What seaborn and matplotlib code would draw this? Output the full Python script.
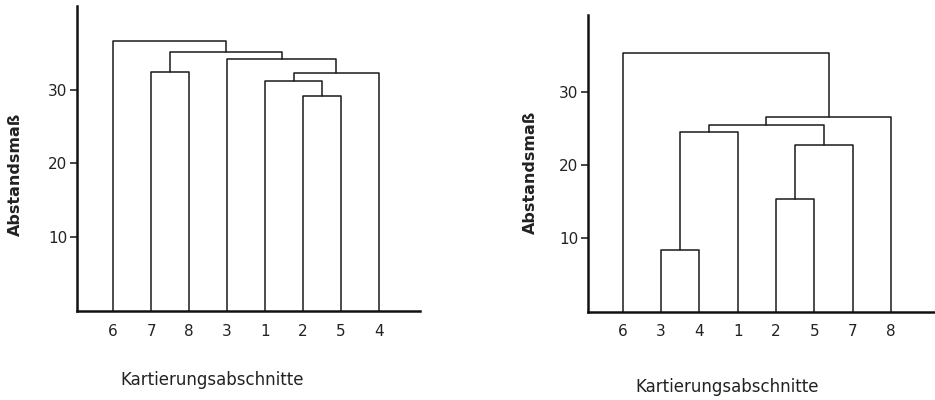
import numpy as np
import pandas as pd
import matplotlib
matplotlib.use('Agg')
import matplotlib.pyplot as plt
import seaborn as sns

# leaf order as printed under each dendrogram
left_leaves = ['6', '7', '8', '3', '1', '2', '5', '4']
right_leaves = ['6', '3', '4', '1', '2', '5', '7', '8']

# merges (scipy-style): leaves are 0..7 in plot order, new clusters 8, 9, ...
left_a = [5, 4, 9, 1, 3, 11, 0]
left_b = [6, 8, 7, 2, 10, 12, 13]
left_h = [29.1, 31.1, 32.3, 32.4, 34.1, 35.1, 36.5]

right_a = [1, 4, 9, 8, 11, 12, 0]
right_b = [2, 5, 6, 3, 10, 7, 13]
right_h = [8.4, 15.4, 22.7, 24.5, 25.5, 26.6, 35.3]

y_ticks = [10, 20, 30]
y_label = 'Abstandsmaß'
x_label = 'Kartierungsabschnitte'


def dendro_segments(leaves, a, b, h):
    n = len(leaves)
    xpos = {i: i + 1 for i in range(n)}
    hpos = {i: 0.0 for i in range(n)}
    rows = []
    for k, (ca, cb, hh) in enumerate(zip(a, b, h)):
        xa, xb = xpos[ca], xpos[cb]
        pts = [(xa, hpos[ca]), (xa, hh), (xb, hh), (xb, hpos[cb])]
        for j, (px, py) in enumerate(pts):
            rows.append({'seg': k, 'order': j, 'x': px, 'y': py})
        xpos[n + k] = (xa + xb) / 2
        hpos[n + k] = hh
    return pd.DataFrame(rows)


sns.set_style('ticks')
plt.rcParams['font.family'] = ['DejaVu Sans']

fig = plt.figure(figsize=(9.35, 4.0), dpi=100)
ax1 = fig.add_axes([77 / 935, 1 - 311.3 / 400, 343 / 935, (311.3 - 6) / 400])
ax2 = fig.add_axes([588 / 935, 1 - 311.7 / 400, 347 / 935, (311.7 - 15) / 400])

panels = [
    (ax1, left_leaves, left_a, left_b, left_h, (0.05, 9.08), 41.3),
    (ax2, right_leaves, right_a, right_b, right_h, (0.09, 9.15), 40.5),
]

for ax, leaves, a, b, h, xlim, ytop in panels:
    seg = dendro_segments(leaves, a, b, h)
    sns.lineplot(data=seg, x='x', y='y', units='seg', estimator=None, sort=False,
                 color='#1a1a1a', linewidth=1.1, ax=ax)
    ax.set_xlim(*xlim)
    ax.set_ylim(0, ytop)
    ax.set_xticks(range(1, len(leaves) + 1))
    ax.set_xticklabels(leaves, fontsize=11, color='#222222')
    ax.set_yticks(y_ticks)
    ax.set_yticklabels([str(t) for t in y_ticks], fontsize=11, color='#222222')
    ax.tick_params(axis='x', length=0, pad=9)
    ax.tick_params(axis='y', length=5, width=1.2, direction='out', pad=2)
    for s in ['top', 'right']:
        ax.spines[s].set_visible(False)
    for s in ['left', 'bottom']:
        ax.spines[s].set_linewidth(1.8)
        ax.spines[s].set_color('#111111')
    ax.set_xlabel('')
    ax.set_ylabel('')

fig.text(15 / 935, 1 - 174 / 400, y_label, rotation=90, ha='center', va='center',
         fontsize=11.5, fontweight='bold', color='#222222')
fig.text(212 / 935, 1 - 380 / 400, x_label, ha='center', va='center',
         fontsize=12, color='#222222')
fig.text(530 / 935, 1 - 172 / 400, y_label, rotation=90, ha='center', va='center',
         fontsize=11.5, fontweight='bold', color='#222222')
fig.text(727 / 935, 1 - 387 / 400, x_label, ha='center', va='center',
         fontsize=12, color='#222222')

fig.savefig('out.png', dpi=100)
